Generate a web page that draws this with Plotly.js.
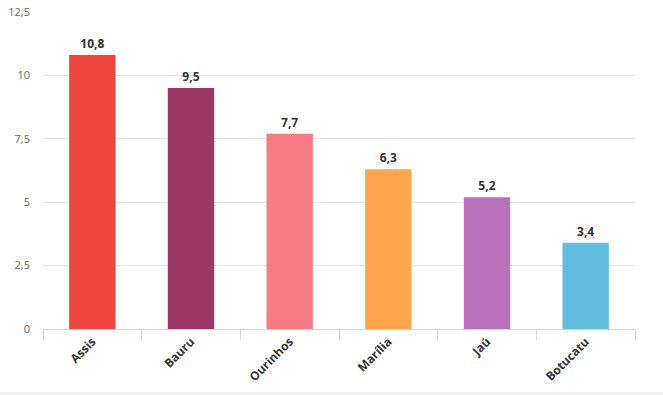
<!DOCTYPE html>
<html>
<head>
<meta charset="utf-8">
<script src="https://cdn.plot.ly/plotly-3.0.1.min.js"></script>
<style>
html,body{margin:0;padding:0;background:#f0f0f0;width:663px;height:395px;overflow:hidden;}
#chart{width:663px;height:392px;background:#fff;}
</style>
</head>
<body>
<div id="chart"></div>
<script>
const categories = ["Assis", "Bauru", "Ourinhos", "Marília", "Jaú", "Botucatu"];
const values = [10.8, 9.5, 7.7, 6.3, 5.2, 3.4];
const barColors = ["#ee453f", "#9b3764", "#f77b82", "#ffa64d", "#b871b8", "#63bde0"];
const yTickVals = [0, 2.5, 5, 7.5, 10, 12.5];
const yTickText = ["0", "2,5", "5", "7,5", "10", "12,5"];

const labels = values.map(v => v.toFixed(1).replace(".", ","));

const trace = {
  type: "bar",
  x: categories,
  y: values,
  marker: {color: barColors, line: {width: 0}},
  width: 0.47,
  text: labels,
  textposition: "outside",
  cliponaxis: false,
  textfont: {family: "Open Sans, sans-serif", size: 12, color: "#333333", weight: "bold"},
  hoverinfo: "x+y"
};

const layout = {
  width: 663,
  height: 392,
  margin: {l: 43, r: 28, t: 12, b: 63},
  paper_bgcolor: "#ffffff",
  plot_bgcolor: "#ffffff",
  separators: ",.",
  showlegend: false,
  xaxis: {
    type: "category",
    tickson: "boundaries",
    ticks: "outside",
    ticklen: 10,
    tickcolor: "#ccd6eb",
    tickwidth: 1,
    showline: true,
    linecolor: "#ccd6eb",
    linewidth: 1,
    showgrid: false,
    tickangle: -45,
    tickfont: {family: "Open Sans, sans-serif", size: 12, color: "#333333", weight: "bold"}
  },
  yaxis: {
    range: [0, 12.5],
    tickvals: yTickVals,
    ticktext: yTickText,
    showgrid: true,
    gridcolor: "#e6e6e6",
    gridwidth: 1,
    zeroline: false,
    showline: false,
    ticks: "",
    ticklabelstandoff: 12,
    tickfont: {family: "Open Sans, sans-serif", size: 11, color: "#666666"}
  }
};

Plotly.newPlot("chart", [trace], layout, {displayModeBar: false, staticPlot: true});
</script>
</body>
</html>
